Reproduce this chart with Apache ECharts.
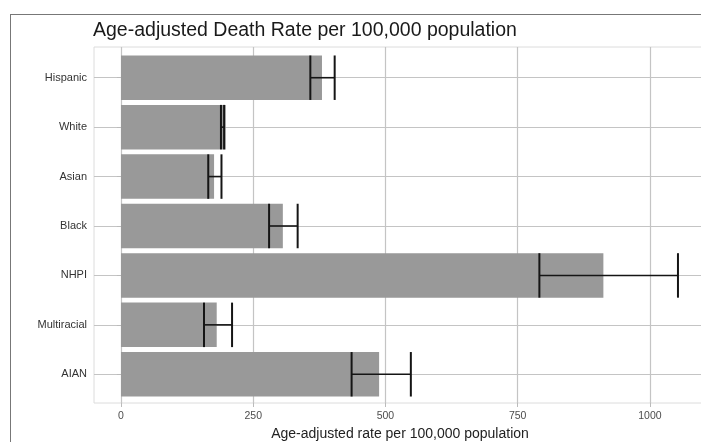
<!DOCTYPE html>
<html>
<head>
<meta charset="utf-8">
<script src="https://cdn.jsdelivr.net/npm/echarts@6/dist/echarts.min.js"></script>
<style>
  html, body { margin: 0; padding: 0; background: #fff; overflow: hidden; }
  #chart { width: 701px; height: 442px; }
</style>
</head>
<body>
<div id="chart"></div>
<script>
// Groups, top to bottom
const categories = ['Hispanic', 'White', 'Asian', 'Black', 'NHPI', 'Multiracial', 'AIAN'];
// Age-adjusted death rate per 100,000
const rates = [380, 198, 176, 306, 912, 181, 488];
// Confidence interval ends
const lowerCI = [358, 189, 165, 280, 791, 157, 436];
const upperCI = [404, 195, 190, 334, 1053, 210, 548];
// X axis tick labels
const xTicks = [0, 250, 500, 750, 1000];

const chart = echarts.init(document.getElementById('chart'));

const font = 'Liberation Sans, Arial, sans-serif';
const xMin = -51;
const xMax = 1106;

// error bar rows: [category, low, high]
const errorData = categories.map((c, i) => [c, lowerCI[i], upperCI[i]]);

function renderErrorBar(params, api) {
    const cat = api.value(0);
    const lo = api.coord([api.value(1), cat]);
    const hi = api.coord([api.value(2), cat]);
    const half = api.size([0, 1])[1] * 0.45;
    const style = { stroke: '#151515', lineWidth: 2 };
    return {
        type: 'group',
        children: [
            { type: 'line', shape: { x1: lo[0], y1: lo[1], x2: hi[0], y2: hi[1] },
              style: { stroke: '#151515', lineWidth: 1.6 } },
            { type: 'line', shape: { x1: lo[0], y1: lo[1] - half, x2: lo[0], y2: lo[1] + half }, style: style },
            { type: 'line', shape: { x1: hi[0], y1: hi[1] - half, x2: hi[0], y2: hi[1] + half }, style: style }
        ]
    };
}

const option = {
    animation: false,
    backgroundColor: '#fff',
    title: {
        text: 'Age-adjusted Death Rate per 100,000 population',
        left: 93,
        top: 21,
        padding: 0,
        textStyle: { fontFamily: font, fontSize: 19.5, fontWeight: 'normal', color: '#1a1a1a' }
    },
    graphic: [
        // outer frame of the figure: only its left and top edges are in view
        { type: 'line', shape: { x1: 10.5, y1: 14, x2: 10.5, y2: 460 },
          style: { stroke: '#777', lineWidth: 1 }, silent: true },
        { type: 'line', shape: { x1: 10, y1: 14.5, x2: 760, y2: 14.5 },
          style: { stroke: '#777', lineWidth: 1 }, silent: true }
    ],
    grid: [
        // bars
        { left: 94, width: 612, top: 53, bottom: 43, outerBoundsMode: 'none', containLabel: false },
        // panel with border and vertical grid lines
        { left: 94, width: 612, top: 47, bottom: 39, show: true, outerBoundsMode: 'none', containLabel: false,
          borderColor: '#dcdcdc', borderWidth: 1, backgroundColor: 'transparent' }
    ],
    xAxis: [
        { gridIndex: 0, type: 'value', min: xMin, max: xMax, show: false },
        {
            gridIndex: 1, type: 'value', min: xMin, max: xMax,
            axisLine: { show: false },
            axisTick: { show: true, customValues: xTicks, length: 4, lineStyle: { color: '#bbb' } },
            axisLabel: { customValues: xTicks, margin: 8, fontFamily: font, fontSize: 10.5, color: '#4d4d4d',
                         formatter: v => String(v) },
            splitLine: { show: true, lineStyle: { color: '#c4c4c4', width: 1.2 } },
            name: 'Age-adjusted rate per 100,000 population',
            nameLocation: 'middle',
            nameGap: 23,
            nameTextStyle: { fontFamily: font, fontSize: 14, color: '#222' }
        }
    ],
    yAxis: [
        {
            gridIndex: 0, type: 'category', data: categories, inverse: true,
            axisLine: { show: false },
            axisTick: { show: true, alignWithLabel: true, length: 4, lineStyle: { color: '#bbb' } },
            axisLabel: { margin: 7, fontFamily: font, fontSize: 11, color: '#333' },
            splitLine: { show: true, alignWithLabel: true, lineStyle: { color: '#c4c4c4', width: 1.2 } }
        },
        { gridIndex: 1, type: 'value', show: false, splitLine: { show: false } }
    ],
    series: [
        {
            name: 'Rate',
            type: 'bar',
            xAxisIndex: 0,
            yAxisIndex: 0,
            data: rates,
            barWidth: '90%',
            itemStyle: { color: '#999999' },
            z: 3
        },
        {
            name: 'CI',
            type: 'custom',
            xAxisIndex: 0,
            yAxisIndex: 0,
            renderItem: renderErrorBar,
            encode: { x: [1, 2], y: 0 },
            data: errorData,
            z: 4
        }
    ]
};

chart.setOption(option);
</script>
</body>
</html>
